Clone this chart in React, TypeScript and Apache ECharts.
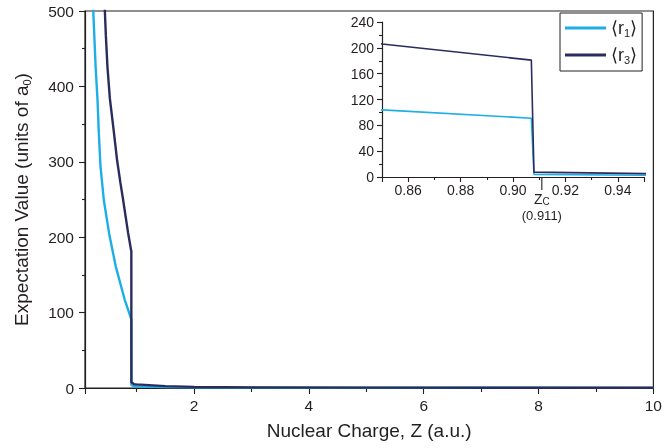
import React, { useEffect, useRef } from "react";
import * as echarts from "echarts";

// <r1> (light): nuclear charge Z vs expectation value (units of a0)
const r1Z = [0.2, 0.244, 0.285, 0.318, 0.341, 0.37, 0.428, 0.52, 0.636, 0.792, 0.85, 0.907, 0.908, 0.95, 1.0, 1.5, 2.0, 3.0, 5.0, 10.0];
const r1Vals = [620, 500, 426, 382, 338, 294, 249, 205, 161, 117, 104, 91, 4, 2.6, 2.3, 1.2, 0.8, 0.5, 0.3, 0.2];

// <r3> (dark)
const r3Z = [0.42, 0.446, 0.463, 0.491, 0.533, 0.602, 0.659, 0.717, 0.763, 0.85, 0.907, 0.908, 0.95, 1.0, 1.5, 2.0, 3.0, 5.0, 10.0];
const r3Vals = [560, 500, 468, 426, 384, 340, 302, 272, 250, 206, 181, 7.5, 5.2, 4.8, 2.5, 1.5, 0.8, 0.5, 0.3];

const seriesNames = ["r1", "r3"];
const zCritical = 0.911;

const FONT = '"Liberation Sans", Arial, Helvetica, sans-serif';
const LIGHT = "#1eaee6";
const DARK = "#2b2c5e";
const INK = "#231f20";

export default function App() {
  const ref = useRef<HTMLDivElement>(null);
  useEffect(() => {
    const chart = echarts.init(ref.current!, null, { renderer: "svg" });
    const r1 = r1Z.map((z, i) => [z, r1Vals[i]]);
    const r3 = r3Z.map((z, i) => [z, r3Vals[i]]);
    const axisLine = { show: true, onZero: false, lineStyle: { color: INK, width: 1.2 } };
    const tickStyle = { color: INK, width: 1.1 };
    const colors = [LIGHT, DARK];
    const datas = [r1, r3];

    const option: any = {
      animation: false,
      textStyle: { fontFamily: FONT },
      grid: [
        { left: 85, right: 8, top: 11, bottom: 60, show: true, borderColor: INK, borderWidth: 1.2 },
        { left: 382, right: 21, top: 22, bottom: 271 },
      ],
      legend: {
        data: seriesNames,
        left: 560,
        top: 13,
        orient: "vertical",
        padding: [6, 5, 6, 5],
        itemGap: 8,
        itemWidth: 41,
        itemHeight: 3,
        itemTextGap: 6,
        icon: "rect",
        borderColor: INK,
        borderWidth: 1,
        formatter: (name: string) => `{a|⟨${name[0]}}{s|${name.slice(1)}}{a|⟩}`,
        textStyle: {
          color: INK,
          fontFamily: FONT,
          fontSize: 18,
          rich: {
            a: { fontSize: 18, fontFamily: FONT, color: INK },
            s: { fontSize: 11, fontFamily: FONT, color: INK, verticalAlign: "bottom", padding: [9, 0, 0, 0] },
          },
        },
      },
      xAxis: [
        {
          type: "value",
          gridIndex: 0,
          min: 0.1,
          max: 10,
          splitNumber: 5,
          axisLine,
          axisTick: { show: true, length: 6, lineStyle: tickStyle },
          minorTick: { show: true, splitNumber: 2, length: 4, lineStyle: tickStyle },
          splitLine: { show: false },
          axisLabel: { showMinLabel: false, fontSize: 15.5, color: INK, margin: 9, fontFamily: FONT },
          name: "Nuclear Charge, Z (a.u.)",
          nameLocation: "middle",
          nameGap: 33,
          nameTextStyle: { fontSize: 19, color: INK, fontFamily: FONT },
        },
        {
          type: "value",
          gridIndex: 1,
          min: 0.85,
          max: 0.95,
          splitNumber: 5,
          axisLine,
          axisTick: { show: true, length: 5, lineStyle: tickStyle },
          minorTick: { show: true, splitNumber: 2, length: 3, lineStyle: tickStyle },
          splitLine: { show: false },
          axisLabel: {
            showMinLabel: false,
            showMaxLabel: false,
            fontSize: 14,
            color: INK,
            margin: 6,
            fontFamily: FONT,
            formatter: (v: number) => v.toFixed(2),
          },
        },
      ],
      yAxis: [
        {
          type: "value",
          gridIndex: 0,
          min: 0,
          max: 500,
          interval: 100,
          axisLine,
          axisTick: { show: true, length: 6, lineStyle: tickStyle },
          minorTick: { show: true, splitNumber: 2, length: 3, lineStyle: tickStyle },
          splitLine: { show: false },
          axisLabel: { fontSize: 15.5, color: INK, margin: 11, fontFamily: FONT },
          name: "Expectation Value (units of a{s|0})",
          nameLocation: "middle",
          nameGap: 53,
          nameTextStyle: {
            fontSize: 19,
            color: INK,
            fontFamily: FONT,
            rich: {
              s: { fontSize: 11, fontFamily: FONT, color: INK, verticalAlign: "bottom", padding: [10, 0, 0, 0] },
            },
          },
        },
        {
          type: "value",
          gridIndex: 1,
          min: 0,
          max: 240,
          interval: 40,
          axisLine,
          axisTick: { show: true, length: 5, lineStyle: tickStyle },
          minorTick: { show: true, splitNumber: 2, length: 3, lineStyle: tickStyle },
          splitLine: { show: false },
          axisLabel: { fontSize: 14, color: INK, margin: 8, fontFamily: FONT },
        },
      ],
      series: [0, 1].flatMap((g) =>
        seriesNames.map((name, i) => ({
          name,
          type: "line",
          xAxisIndex: g,
          yAxisIndex: g,
          data: datas[i],
          symbol: "none",
          showSymbol: false,
          clip: true,
          lineStyle: { color: colors[i], width: g === 0 ? 2.4 : 1.6 },
          itemStyle: { color: colors[i] },
          z: 2 + i,
        }))
      ),
    };
    chart.setOption(option);

    const p = chart.convertToPixel({ gridIndex: 1 }, [zCritical, 0]) as number[];
    chart.setOption({
      graphic: [
        {
          type: "line",
          shape: { x1: p[0], y1: p[1] + 1, x2: p[0], y2: p[1] + 13 },
          style: { stroke: INK, lineWidth: 1.1 },
        },
        {
          type: "text",
          x: p[0],
          y: p[1] + 14,
          style: {
            text: "Z{c|C}",
            fontSize: 14,
            fontFamily: FONT,
            fill: INK,
            align: "center",
            verticalAlign: "top",
            rich: { c: { fontSize: 10, fontFamily: FONT, fill: INK, verticalAlign: "bottom", padding: [5, 0, 0, 0] } },
          },
        },
        {
          type: "text",
          x: p[0],
          y: p[1] + 32,
          style: {
            text: `(${zCritical})`,
            fontSize: 13,
            fontFamily: FONT,
            fill: INK,
            align: "center",
            verticalAlign: "top",
          },
        },
      ],
    });
    return () => chart.dispose();
  }, []);
  return <div ref={ref} style={{ position: "fixed", left: 0, top: 0, width: 665, height: 448 }} />;
}
